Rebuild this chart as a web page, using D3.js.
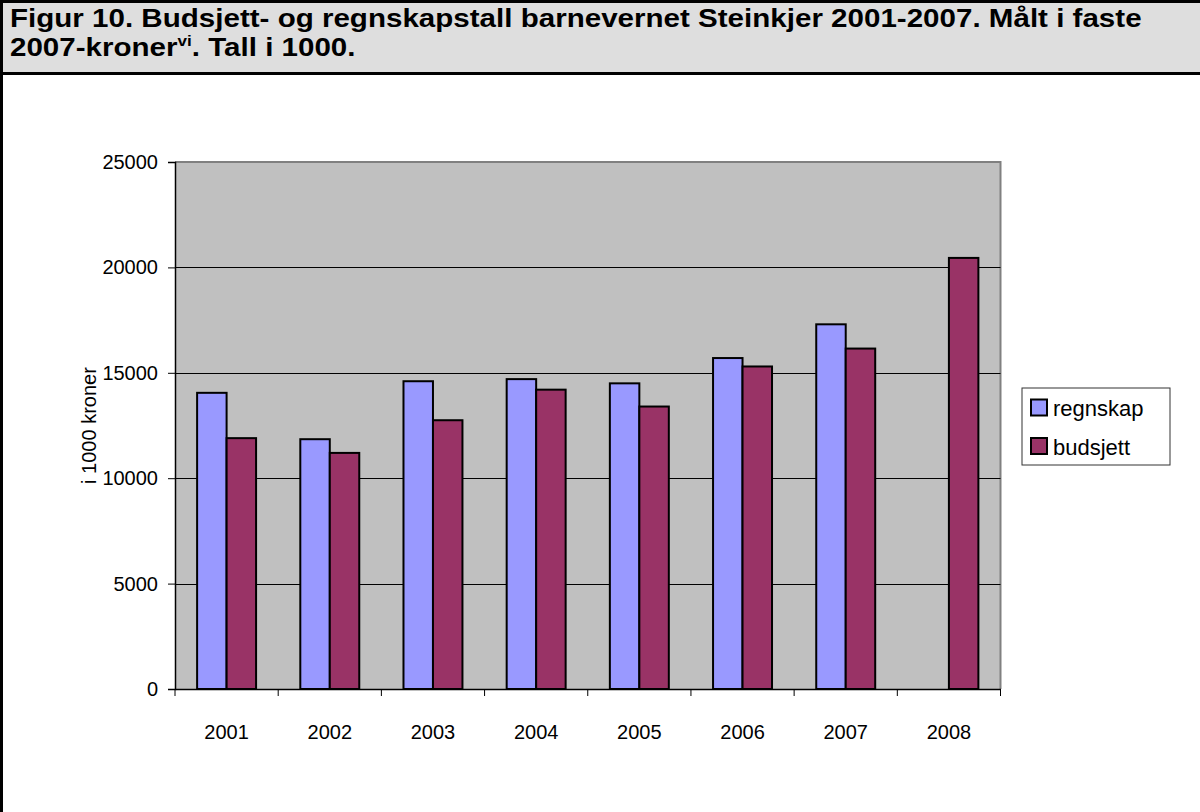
<!DOCTYPE html>
<html>
<head>
<meta charset="utf-8">
<script src="https://cdn.jsdelivr.net/npm/d3@7"></script>
<style>
  html, body { margin: 0; padding: 0; background: #fff; }
  svg { display: block; font-family: Arial, "Liberation Sans", sans-serif; }
</style>
</head>
<body>
<svg id="chart" width="1200" height="812"></svg>
<script>
const categories = ["2001", "2002", "2003", "2004", "2005", "2006", "2007", "2008"];
const regnskap = [14050, 11850, 14600, 14700, 14500, 15700, 17300, null];
const budsjett = [11900, 11200, 12750, 14200, 13400, 15300, 16150, 20450];
const seriesNames = ["regnskap", "budsjett"];
const seriesColors = ["#9999ff", "#993366"];
const yTicks = [0, 5000, 10000, 15000, 20000, 25000];
const titleLine1 = "Figur 10. Budsjett- og regnskapstall barnevernet Steinkjer 2001-2007. Målt i faste";
const titleLine2a = "2007-kroner";
const titleSup = "vi";
const titleLine2b = ". Tall i 1000.";
const yLabel = "i 1000 kroner";

const svg = d3.select("#chart");

// outer frame and title box
svg.append("rect").attr("x", 1.5).attr("y", 1.5).attr("width", 1200).attr("height", 72)
  .attr("fill", "#dedede");
svg.append("line").attr("x1", 0).attr("x2", 1200).attr("y1", 1.5).attr("y2", 1.5)
  .attr("stroke", "#000").attr("stroke-width", 3);
svg.append("line").attr("x1", 0).attr("x2", 1200).attr("y1", 73.5).attr("y2", 73.5)
  .attr("stroke", "#000").attr("stroke-width", 3);
svg.append("line").attr("x1", 1.5).attr("x2", 1.5).attr("y1", 0).attr("y2", 812)
  .attr("stroke", "#000").attr("stroke-width", 3);

// title (slightly condensed bold)
const tg = svg.append("g");
const t1 = tg.append("text").attr("x", 0).attr("y", 27)
  .attr("font-weight", "bold").attr("font-size", 26).attr("fill", "#000").text(titleLine1);
const natural = t1.node().getComputedTextLength();
const sx = 1132 / natural;
tg.attr("transform", `translate(10,0) scale(${sx},1)`);
const t2 = tg.append("text").attr("x", 0).attr("y", 56)
  .attr("font-weight", "bold").attr("font-size", 26).attr("fill", "#000");
t2.append("tspan").text(titleLine2a);
t2.append("tspan").attr("dy", -10).attr("font-size", 15).text(titleSup);
t2.append("tspan").attr("dy", 10).text(titleLine2b);

// plot
const x0 = 175, x1 = 1000.5, yTop = 162, yBot = 689;
const x = d3.scaleBand().domain(categories).range([x0, x1]).paddingInner(0).paddingOuter(0);
const y = d3.scaleLinear().domain([0, 25000]).range([yBot, yTop]);
const bw = x.bandwidth() / 3.5;

svg.append("rect").attr("x", x0).attr("y", yTop).attr("width", x1 - x0).attr("height", yBot - yTop)
  .attr("fill", "#c0c0c0");
svg.append("path").attr("d", `M${x0},${yTop}H${x1}V${yBot}`).attr("fill", "none")
  .attr("stroke", "#808080").attr("stroke-width", 2);

// gridlines
svg.append("g").selectAll("line").data(yTicks.filter(d => d > 0 && d < 25000)).join("line")
  .attr("x1", x0).attr("x2", x1).attr("y1", d => Math.round(y(d)) + 0.5).attr("y2", d => Math.round(y(d)) + 0.5)
  .attr("stroke", "#000").attr("stroke-width", 1);

// bars
const data = [regnskap, budsjett];
data.forEach((vals, si) => {
  svg.append("g").selectAll("rect").data(categories.map((c, i) => ({c, v: vals[i]})).filter(d => d.v != null))
    .join("rect")
    .attr("x", d => x(d.c) + bw * 0.75 + si * bw)
    .attr("y", d => y(d.v))
    .attr("width", bw)
    .attr("height", d => yBot - y(d.v))
    .attr("fill", seriesColors[si])
    .attr("stroke", "#000").attr("stroke-width", 2);
});

// y axis
const yAxis = d3.axisLeft(y).tickValues(yTicks).tickSize(7).tickPadding(10).tickFormat(d3.format("d"));
const gy = svg.append("g").attr("transform", `translate(${x0},0)`).call(yAxis);
gy.select(".domain").attr("stroke", "#000").attr("stroke-width", 1.5);
gy.selectAll(".tick line").attr("stroke", "#000");
gy.selectAll(".tick text").attr("font-size", 20).attr("fill", "#000").attr("font-family", "Arial, 'Liberation Sans', sans-serif");

// x axis
const xAxis = d3.axisBottom(x).tickSize(0).tickPadding(36);
const gx = svg.append("g").attr("transform", `translate(0,${yBot})`).call(xAxis);
gx.select(".domain").attr("stroke", "#000").attr("stroke-width", 1.5);
gx.selectAll(".tick text").attr("font-size", 20).attr("fill", "#000").attr("font-family", "Arial, 'Liberation Sans', sans-serif");
const bounds = categories.map(c => x(c)).concat([x1]);
gx.append("g").selectAll("line").data(bounds).join("line")
  .attr("x1", d => d).attr("x2", d => d).attr("y1", 0).attr("y2", 7)
  .attr("stroke", "#000").attr("stroke-width", 1);

// y label
svg.append("text").attr("transform", `translate(96,${(yTop + yBot) / 2}) rotate(-90)`)
  .attr("text-anchor", "middle").attr("font-size", 20).attr("fill", "#000").text(yLabel);

// legend
const lg = svg.append("g");
lg.append("rect").attr("x", 1022).attr("y", 388).attr("width", 148).attr("height", 77)
  .attr("fill", "#fff").attr("stroke", "#333").attr("stroke-width", 1);
seriesNames.forEach((n, i) => {
  lg.append("rect").attr("x", 1031).attr("y", 399.5 + i * 38.5).attr("width", 16).attr("height", 16)
    .attr("fill", seriesColors[i]).attr("stroke", "#000").attr("stroke-width", 2);
  lg.append("text").attr("x", 1053).attr("y", 416 + i * 38.5).attr("font-size", 22).attr("fill", "#000").text(n);
});
</script>
</body>
</html>
